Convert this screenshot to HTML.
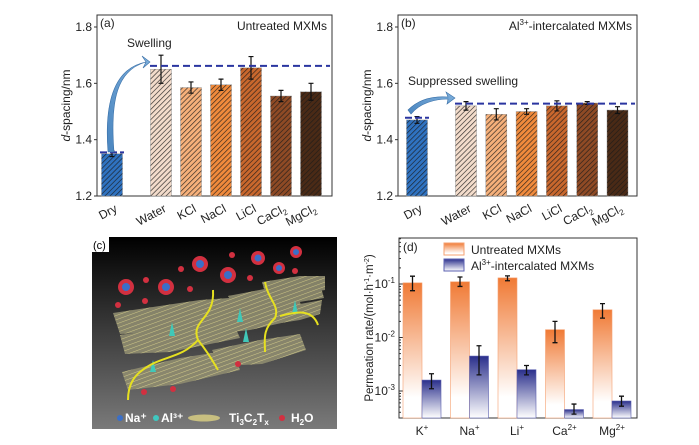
<!DOCTYPE html>
<html><head><meta charset="utf-8"><style>
body{margin:0;background:#fff;width:699px;height:445px;overflow:hidden}
svg{display:block;font-family:"Liberation Sans",sans-serif}
</style></head><body>
<svg id="fig" width="699" height="445" viewBox="0 0 699 445">
<defs>
<pattern id="hatch" width="3.6" height="3.6" patternUnits="userSpaceOnUse" patternTransform="rotate(45)">
<line x1="0" y1="0" x2="0" y2="3.6" stroke="#1a1a1a" stroke-width="1.4"/>
</pattern>
<linearGradient id="gOr" x1="0" y1="0" x2="0" y2="1"><stop offset="0" stop-color="#f07a35"/><stop offset="0.85" stop-color="#fff"/></linearGradient>
<linearGradient id="gBl" x1="0" y1="0" x2="0" y2="1"><stop offset="0" stop-color="#2a2f8c"/><stop offset="1" stop-color="#fff"/></linearGradient>
<linearGradient id="gBg" x1="0" y1="0" x2="0" y2="1"><stop offset="0" stop-color="#000"/><stop offset="1" stop-color="#7a7a7a"/></linearGradient>
<linearGradient id="gArr" x1="0" y1="1" x2="1" y2="0"><stop offset="0" stop-color="#4a86c0"/><stop offset="1" stop-color="#7fb0dc"/></linearGradient>
<pattern id="mx" width="4" height="4" patternUnits="userSpaceOnUse" patternTransform="rotate(70)">
<rect width="4" height="4" fill="#8f8c70"/><line x1="0" y1="0" x2="0" y2="4" stroke="#e0d890" stroke-width="1"/>
</pattern>
</defs>
<g id="pa"></g>
<g id="pb"></g>
<g id="pc">
<rect x="92" y="237" width="245" height="192" fill="url(#gBg)"/>
<rect x="92" y="237" width="17" height="15" fill="#fff"/>
<text x="93" y="249" font-size="11" fill="#000">(c)</text>
<g fill="url(#mx)" opacity="0.9">
<polygon points="113,313 200,300 258,296 262,316 180,330 120,334"/>
<polygon points="120,335 190,325 232,320 240,338 170,352 125,354"/>
<polygon points="122,372 180,358 232,350 240,370 180,384 128,390"/>
<polygon points="188,318 245,304 300,302 304,318 250,330 195,336"/>
<polygon points="212,350 260,340 300,334 306,350 262,364 220,366"/>
<polygon points="228,296 270,288 320,284 324,298 275,306 235,308"/>
<polygon points="262,282 300,276 325,276 325,290 300,294 266,296"/>
<polygon points="268,312 300,304 322,300 320,314 300,320 274,324"/>
</g>
<g fill="#d23040"><circle cx="126" cy="287" r="8"/><circle cx="166" cy="287" r="8"/><circle cx="200" cy="264" r="8"/><circle cx="228" cy="275" r="8"/><circle cx="258" cy="258" r="7"/><circle cx="279" cy="268" r="6"/><circle cx="296" cy="252" r="6"/>
<circle cx="146" cy="280" r="3"/><circle cx="118" cy="305" r="3"/><circle cx="145" cy="301" r="3"/><circle cx="181" cy="269" r="3"/><circle cx="190" cy="289" r="3"/><circle cx="250" cy="278" r="3"/><circle cx="232" cy="255" r="3"/><circle cx="295" cy="271" r="3"/><circle cx="173" cy="389" r="3"/><circle cx="144" cy="392" r="3"/><circle cx="238" cy="364" r="3"/></g>
<g fill="#3a6fc8"><circle cx="126" cy="287" r="4"/><circle cx="166" cy="287" r="4"/><circle cx="200" cy="264" r="4"/><circle cx="228" cy="275" r="4"/><circle cx="258" cy="258" r="3.5"/><circle cx="279" cy="268" r="3"/><circle cx="296" cy="252" r="3"/></g>
<g fill="#40c8b8"><path d="M153,360 l-3,12 h6z"/><path d="M172,322 l-3,14 h6z"/><path d="M240,308 l-3,14 h6z"/><path d="M295,300 l-3,14 h6z"/><path d="M246,328 l-3,14 h6z"/></g>
<g fill="none" stroke="#e6e020" stroke-width="2"><path d="M213,290 C215,320 190,320 198,340 C210,355 215,365 218,370"/><path d="M198,340 C180,360 160,355 140,372 C130,380 128,392 128,400"/><path d="M265,282 C268,300 280,305 275,318 C262,330 265,340 265,352"/><path d="M280,316 C295,312 312,308 318,325"/></g>
<g font-size="12" fill="#fff" font-weight="bold"><circle cx="120" cy="418" r="3" fill="#3a6fc8"/><text x="125" y="422">Na⁺</text>
<circle cx="156" cy="418" r="3" fill="#3fc8c0"/><text x="161" y="422">Al³⁺</text>
<ellipse cx="204" cy="418" rx="16" ry="3.5" fill="#c8bf80"/>
<text x="229" y="422">Ti<tspan font-size="8" dy="3">3</tspan><tspan dy="-3">C</tspan><tspan font-size="8" dy="3">2</tspan><tspan dy="-3">T</tspan><tspan font-size="8" dy="3">x</tspan></text>
<circle cx="282" cy="418" r="3" fill="#d23040"/><text x="291" y="422">H<tspan font-size="8" dy="3">2</tspan><tspan dy="-3">O</tspan></text></g>
</g>
<g id="pd"></g>
</svg>
<script>
const NS="http://www.w3.org/2000/svg";
function mk(p,t,a,txt){const e=document.createElementNS(NS,t);for(const k in a)e.setAttribute(k,a[k]);if(txt!==undefined)e.textContent=txt;p.appendChild(e);return e;}

// panel a/b data
const catsAB=["Dry","Water","KCl","NaCl","LiCl","CaCl2","MgCl2"];
const valsA=[1.35,1.65,1.585,1.595,1.655,1.555,1.57];
const errA=[0.01,0.05,0.02,0.02,0.04,0.02,0.03];
const valsB=[1.47,1.52,1.49,1.50,1.52,1.53,1.505];
const errB=[0.012,0.015,0.02,0.01,0.018,0.005,0.012];
const ticksAB=[1.2,1.4,1.6,1.8];
const colorsAB=["#2f72c0","#f3dccb","#f6b07a","#f08a3c","#c8672d","#8e4a25","#4a2a16"];

function panelAB(g,x0,x1,vals,errs,lineA,lineDry,label,title,note,catX){
  const yT=15,yB=196;
  const y=v=>196-(v-1.2)/0.6*169;
  mk(g,"rect",{x:x0,y:yT,width:x1-x0,height:yB-yT,fill:"none",stroke:"#333","stroke-width":1});
  ticksAB.forEach(t=>{mk(g,"line",{x1:x0-3,x2:x0,y1:y(t),y2:y(t),stroke:"#333"});
    const tl=mk(g,"text",{x:x0-5,y:y(t)+4,"font-size":12,"text-anchor":"end",fill:"#222"},t.toFixed(1));
    
    });
  const yl=mk(g,"text",{transform:`translate(${x0-27},${(yT+yB)/2}) rotate(-90)`,"font-size":12,"text-anchor":"middle",fill:"#222"});
  yl.innerHTML='<tspan font-style="italic">d</tspan>-spacing/nm';
  
  
  mk(g,"text",{x:x0+3,y:yT+12,"font-size":12,fill:"#222"},label);
  const tt=mk(g,"text",{x:x1-5,y:yT+15,"font-size":12,"text-anchor":"end",fill:"#222"});tt.innerHTML=title;
  
  
  vals.forEach((v,i)=>{const cx=catX(i),w=21;
    const b=mk(g,"rect",{x:cx-w/2,y:y(v),width:w,height:yB-y(v),fill:colorsAB[i],stroke:"#999","stroke-width":0.5});
    
    
    mk(g,"rect",{x:cx-w/2,y:y(v),width:w,height:yB-y(v),fill:"url(#hatch)",opacity:0.85});
    const e=errs[i];
    mk(g,"path",{d:`M${cx},${y(v+e)}V${y(v-e)}M${cx-2.5},${y(v+e)}h5M${cx-2.5},${y(v-e)}h5`,stroke:"#111","stroke-width":1.2,fill:"none"});
    const lab=catsAB[i].replace(/(\d)/,'<tspan font-size="8" dy="3">$1</tspan>');
    const t=mk(g,"text",{transform:`translate(${cx+6},${yB+15}) rotate(-28)`,"font-size":12,"text-anchor":"end",fill:"#222"});t.innerHTML=lab;
    
    
  });
  mk(g,"line",{x1:catX(1)-11,x2:x1-2,y1:y(lineA),y2:y(lineA),stroke:"#2a35a0","stroke-width":2,"stroke-dasharray":"7,4"});
  mk(g,"line",{x1:catX(0)-12,x2:catX(0)+12,y1:y(lineDry),y2:y(lineDry),stroke:"#2a35a0","stroke-width":2,"stroke-dasharray":"7,3"});
  return y;
}
const ya=panelAB(document.getElementById("pa"),97,332,valsA,errA,1.662,1.355,"(a)","Untreated MXMs","",i=>i==0?112:161+(i-1)*30);
mk(document.getElementById("pa"),"path",{d:"M108,152 C104,100 115,68 146,62 L142,56 L150,62 L143,68 L146,62 C117,70 110,100 114,152 Z",fill:"url(#gArr)",stroke:"#3a70a8","stroke-width":0.6});
mk(document.getElementById("pa"),"text",{x:127,y:47,"font-size":12,fill:"#222"},"Swelling");
const yb=panelAB(document.getElementById("pb"),398,637,valsB,errB,1.528,1.478,"(b)","Al<tspan font-size=\"8\" dy=\"-5\">3+</tspan><tspan dy=\"5\">-intercalated MXMs</tspan>","",i=>i==0?417:466+(i-1)*30.3);
mk(document.getElementById("pb"),"path",{d:"M408,110 C420,98 435,96 448,97 L446,92 L455,98 L447,104 L448,99 C435,99 420,103 411,114 Z",fill:"url(#gArr)",stroke:"#3a70a8","stroke-width":0.6});
mk(document.getElementById("pb"),"text",{x:408,y:85,"font-size":12,fill:"#222"},"Suppressed swelling");

// panel d data
const ions=["K","Na","Li","Ca","Mg"];
const ionSup=["+","+","+","2+","2+"];
const untreated=[0.105,0.11,0.13,0.014,0.033];
const untrLo=[0.075,0.09,0.115,0.008,0.023];
const untrHi=[0.14,0.135,0.142,0.02,0.043];
const alint=[0.0016,0.0045,0.0025,0.00045,0.00065];
const alLo=[0.0011,0.002,0.002,0.00037,0.00052];
const alHi=[0.0021,0.007,0.003,0.00057,0.0008];
const logTicks=[-3,-2,-1];
(function(){
  const g=document.getElementById("pd");
  const x0=399,x1=637,yT=238,yB=418;
  const y=v=>284-(Math.log10(v)+1)*53.5;
  mk(g,"rect",{x:x0,y:yT,width:x1-x0,height:yB-yT,fill:"none",stroke:"#333"});
  logTicks.forEach(t=>{mk(g,"line",{x1:x0,x2:x0+4,y1:y(10**t),y2:y(10**t),stroke:"#333"});
    for(let m=2;m<10;m++){const yy=y(m*10**t);if(yy>yT&&yy<yB)mk(g,"line",{x1:x0,x2:x0+2,y1:yy,y2:yy,stroke:"#333"});}
    const tl=mk(g,"text",{x:x0-4,y:y(10**t)+4,"font-size":12,"text-anchor":"end",fill:"#222"});
    tl.innerHTML=`10<tspan font-size="8" dy="-5">${t}</tspan>`;
    
    });
  for(let m=3;m<10;m++){const yy=y(m*1e-4);if(yy>yT&&yy<yB)mk(g,"line",{x1:x0,x2:x0+2,y1:yy,y2:yy,stroke:"#333"});}
  const yl=mk(g,"text",{transform:`translate(${x0-26},${(yT+yB)/2}) rotate(-90)`,"font-size":11.5,"text-anchor":"middle",fill:"#222"});
  yl.innerHTML='Permeation rate/(mol·h<tspan font-size="7" dy="-4">-1</tspan><tspan dy="4">·m</tspan><tspan font-size="7" dy="-4">-2</tspan><tspan dy="4">)</tspan>';
  
  
  mk(g,"text",{x:x0+4,y:yT+13,"font-size":12,fill:"#222"},"(d)");
  const cx=i=>422+i*47.5,w=19;
  ions.forEach((n,i)=>{
    const c=cx(i);
    const b1=mk(g,"rect",{x:c-w,y:y(untreated[i]),width:w,height:yB-y(untreated[i]),fill:"url(#gOr)",stroke:"#f5a070","stroke-width":0.6});
    
    
    const b2=mk(g,"rect",{x:c,y:y(alint[i]),width:w,height:yB-y(alint[i]),fill:"url(#gBl)",stroke:"#5b60b0","stroke-width":0.6});
    
    
    [[c-w/2,untrLo[i],untrHi[i]],[c+w/2,alLo[i],alHi[i]]].forEach(([ex,lo,hi])=>
      mk(g,"path",{d:`M${ex},${y(hi)}V${y(lo)}M${ex-2.5},${y(hi)}h5M${ex-2.5},${y(lo)}h5`,stroke:"#111","stroke-width":1.3,fill:"none"}));
    const t=mk(g,"text",{x:c,y:yB+17,"font-size":12,"text-anchor":"middle",fill:"#222"});
    t.innerHTML=`${n}<tspan font-size="8" dy="-5">${ionSup[i]}</tspan>`;
    
    
  });
  mk(g,"rect",{x:444,y:243,width:20,height:12,fill:"url(#gOr)",stroke:"#f5a070"});
  const l1=mk(g,"text",{x:471,y:254,"font-size":12,fill:"#222"},"Untreated MXMs");
  
  
  mk(g,"rect",{x:444,y:259,width:20,height:12,fill:"url(#gBl)",stroke:"#5b60b0"});
  const l2=mk(g,"text",{x:471,y:270,"font-size":12,fill:"#222"});
  l2.innerHTML='Al<tspan font-size="8" dy="-5">3+</tspan><tspan dy="5">-intercalated MXMs</tspan>';
  
  
})();
</script>
</body></html>
